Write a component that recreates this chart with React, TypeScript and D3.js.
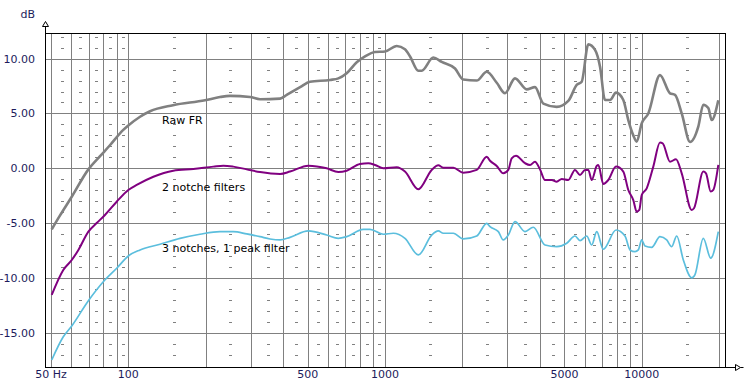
import React from "react";
import * as d3 from "d3";

// ---------- data ----------
const rawFreq = [50.3, 54.2, 60.2, 69.9, 77.6, 84.8, 95.6, 100, 111.1, 121.5, 149.3, 199, 227.6, 249, 298, 326, 390, 414, 467, 510, 611, 658, 709, 776, 836, 914, 1000, 1111, 1196, 1252, 1348, 1390, 1542, 1663, 1874, 2018, 2276, 2490, 2724, 2934, 3209, 3565, 3839, 4138, 4666, 5177, 5582, 5838, 6194, 6579, 6881, 7194, 7523, 7942, 8478, 8868, 9274, 9561, 10000, 10610, 11783, 12889, 13482, 14318, 15427, 16614, 17378, 18172, 18737, 19880];
const rawDb = [-5.57, -4.3, -2.6, -0.1, 1.1, 2.1, 3.5, 3.9, 4.7, 5.2, 5.75, 6.2, 6.5, 6.6, 6.5, 6.3, 6.35, 6.7, 7.4, 7.9, 8.06, 8.2, 8.67, 9.67, 10.2, 10.6, 10.65, 11.16, 10.86, 10.2, 8.9, 8.9, 10.1, 9.7, 9.1, 8.1, 8.0, 8.8, 7.8, 6.84, 8.2, 7.2, 7.4, 5.9, 5.6, 6.14, 7.6, 7.9, 11.3, 10.8, 9.27, 6.23, 6.23, 6.9, 6.23, 4.4, 3.0, 2.43, 4.1, 5.0, 8.5, 6.84, 6.7, 5.0, 2.4, 3.8, 5.8, 5.5, 4.4, 6.2];

const notchFreq = [50.3, 55.8, 60.2, 63.9, 69.9, 75.3, 81.1, 90.1, 100, 107.8, 125.2, 149.7, 179.2, 214.4, 234.5, 256.4, 289.2, 326, 390, 426.5, 502.5, 592.7, 658, 709, 799, 861, 914, 985, 1111, 1196, 1348, 1520, 1613, 1687, 1846, 2018, 2276, 2490, 2565, 2724, 2889, 3022, 3116, 3238, 3511, 3672, 3839, 4016, 4200, 4460, 4666, 4880, 5177, 5497, 5749, 6013, 6194, 6388, 6680, 6776, 7086, 7410, 7942, 8478, 8868, 9274, 9561, 9787, 10000, 10459, 11096, 11783, 12070, 12889, 13604, 14318, 15660, 15985, 17378, 17803, 18570, 19007, 19880];
const notchDb = [-11.56, -9.28, -8.37, -7.45, -5.78, -5.0, -4.26, -3.05, -1.98, -1.52, -0.77, -0.22, -0.06, 0.15, 0.24, 0.15, -0.1, -0.35, -0.52, -0.3, 0.24, 0.0, -0.34, -0.22, 0.39, 0.45, 0.3, 0.0, 0.09, -0.3, -1.92, -0.15, 0.27, 0.05, 0.05, -0.4, -0.15, 1.06, 0.69, 0.21, -0.46, -0.15, 0.91, 1.15, 0.46, 0.3, 0.6, -0.1, -1.07, -1.07, -1.22, -0.98, -1.07, -0.15, -0.61, -0.15, -0.15, -1.07, 0.21, 0.3, -1.43, -1.07, 0.15, -0.3, -1.98, -2.9, -3.96, -3.8, -2.44, -1.83, 0.15, 2.34, 2.28, 0.6, 0.82, -0.46, -3.8, -3.65, -0.3, -0.46, -2.13, -1.98, 0.3];

const peakFreq = [50.3, 55.8, 60.2, 69.9, 79.9, 90.1, 100, 111.1, 132.9, 159, 190.2, 227.6, 256.4, 289.2, 326, 356.5, 390, 426.5, 502.5, 592.7, 658, 709, 823, 874, 985, 1077, 1196, 1348, 1520, 1613, 1687, 1846, 2018, 2276, 2490, 2565, 2764, 2889, 3022, 3209, 3511, 3781, 4200, 4666, 5104, 5497, 5749, 6105, 6388, 6680, 7086, 7942, 8607, 9004, 9417, 9700, 10000, 10301, 10938, 11783, 12514, 13088, 13688, 14527, 15660, 16130, 17378, 18570, 19880];
const peakDb = [-17.49, -15.37, -14.39, -12.08, -10.35, -9.12, -8.0, -7.45, -6.93, -6.39, -6.02, -5.78, -5.78, -5.99, -6.24, -6.45, -6.54, -6.3, -5.72, -6.09, -6.39, -6.24, -5.57, -5.57, -6.02, -5.93, -6.39, -7.91, -6.09, -5.72, -5.93, -5.93, -6.45, -6.18, -5.02, -5.33, -5.78, -6.54, -6.09, -4.87, -5.78, -5.38, -7.0, -7.15, -6.84, -6.18, -6.6, -6.18, -7.0, -5.78, -7.39, -5.63, -6.18, -7.45, -7.61, -7.45, -6.54, -7.09, -7.21, -6.24, -6.54, -7.15, -6.18, -8.37, -10.0, -9.7, -6.4, -8.2, -5.78];

const seriesNames = ["Raw FR", "2 notche filters", "3 notches, 1 peak filter"];

const xTickValues = [50, 100, 500, 1000, 5000, 10000];
const xTickLabels = ["50 Hz", "100", "500", "1000", "5000", "10000"];
const freqGrid = [50, 60, 70, 80, 90, 100, 200, 300, 400, 500, 600, 700, 800, 900, 1000, 2000, 3000, 4000, 5000, 6000, 7000, 8000, 9000, 10000, 20000];
const dashFreqs = [55, 65, 75, 85, 95, 150, 250, 350, 450, 550, 650, 750, 850, 950, 1500, 2500, 3500, 4500, 5500, 6500, 7500, 8500, 9500, 15000];
const yTickValues = [10, 5, 0, -5, -10, -15];
const yTickLabels = ["10.00", "5.00", "0.00", "-5.00", "-10.00", "-15.00"];
const minorDb = [-17, -16, -14, -13, -12, -11, -9, -8, -7, -6, -4, -3, -2, -1, 1, 2, 3, 4, 6, 7, 8, 9, 11, 12];

// ---------- layout ----------
const W = 747;
const H = 381;
const L = 45;
const R = 725;
const T = 33;
const B = 367;

const GRID = "#808080";
const LABEL = "#1c1c5c";
const FONT = "'DejaVu Sans', sans-serif";

export default function App() {
  const x = d3.scaleLog().domain([47.36, 21110]).range([L, R]);
  const y = d3.scaleLinear().domain([-18.13, 12.34]).range([B, T]);

  const line = d3
    .line<[number, number]>()
    .x((d) => x(d[0]))
    .y((d) => y(d[1]))
    .curve(d3.curveMonotoneX);

  const series = [
    { f: rawFreq, v: rawDb, color: "#808080", w: 2.6 },
    { f: notchFreq, v: notchDb, color: "#800080", w: 2 },
    { f: peakFreq, v: peakDb, color: "#5bbedd", w: 1.7 },
  ];

  const px = (v: number) => Math.round(v) + 0.5;

  return (
    <div style={{ position: "absolute", left: 0, top: 0, width: W, height: H, background: "#fff" }}>
      <svg width={W} height={H} style={{ display: "block" }} fontFamily={FONT}>
        <rect x={0} y={0} width={W} height={H} fill="#fff" />
        <g shapeRendering="crispEdges">
          {minorDb.map((db) =>
            dashFreqs.map((f) => (
              <line
                key={`d${db}-${f}`}
                x1={Math.round(x(f)) - 1}
                x2={Math.round(x(f)) + 2}
                y1={px(y(db))}
                y2={px(y(db))}
                stroke={GRID}
                strokeWidth={1}
              />
            ))
          )}
          {freqGrid.map((f) => (
            <line key={`v${f}`} x1={px(x(f))} x2={px(x(f))} y1={T} y2={B} stroke={GRID} strokeWidth={1} />
          ))}
          {yTickValues.map((v) => (
            <line key={`h${v}`} x1={L} x2={R} y1={px(y(v))} y2={px(y(v))} stroke={GRID} strokeWidth={1} />
          ))}
          <line x1={L} x2={R} y1={T + 0.5} y2={T + 0.5} stroke="#000" />
          <line x1={R + 0.5} x2={R + 0.5} y1={T} y2={B} stroke="#000" />
          <line x1={L + 0.5} x2={L + 0.5} y1={26} y2={B + 1} stroke="#000" />
          <line x1={L} x2={735} y1={B + 0.5} y2={B + 0.5} stroke="#000" />
        </g>
        <path d="M45.5,21.5 L42.5,26.5 L48.5,26.5 Z" fill="#fff" stroke="#000" strokeWidth={1} />
        <path d="M735.5,364.5 L740.5,367.5 L735.5,370.5 Z M740.5,367.5 L743.5,367.5" fill="#fff" stroke="#000" strokeWidth={1} />

        {series.map((s, i) => (
          <path
            key={`s${i}`}
            d={line(s.f.map((f, j) => [f, s.v[j]] as [number, number])) || ""}
            fill="none"
            stroke={s.color}
            strokeWidth={s.w}
            strokeLinejoin="round"
          />
        ))}

        {yTickValues.map((v, i) => (
          <text key={`yl${v}`} x={35} y={y(v)} dy="0.36em" textAnchor="end" fontSize={11} fill={LABEL}>
            {yTickLabels[i]}
          </text>
        ))}
        <text x={35} y={18} textAnchor="end" fontSize={11} fill={LABEL}>
          dB
        </text>
        {xTickValues.map((f, i) => (
          <text key={`xl${f}`} x={x(f)} y={378} textAnchor="middle" fontSize={11} fill={LABEL}>
            {xTickLabels[i]}
          </text>
        ))}

        <text x={162} y={124} fontSize={11} fill="#000">{seriesNames[0]}</text>
        <text x={162} y={191} fontSize={11} fill="#000">{seriesNames[1]}</text>
        <text x={162} y={252} fontSize={11} fill="#000">{seriesNames[2]}</text>
      </svg>
    </div>
  );
}
